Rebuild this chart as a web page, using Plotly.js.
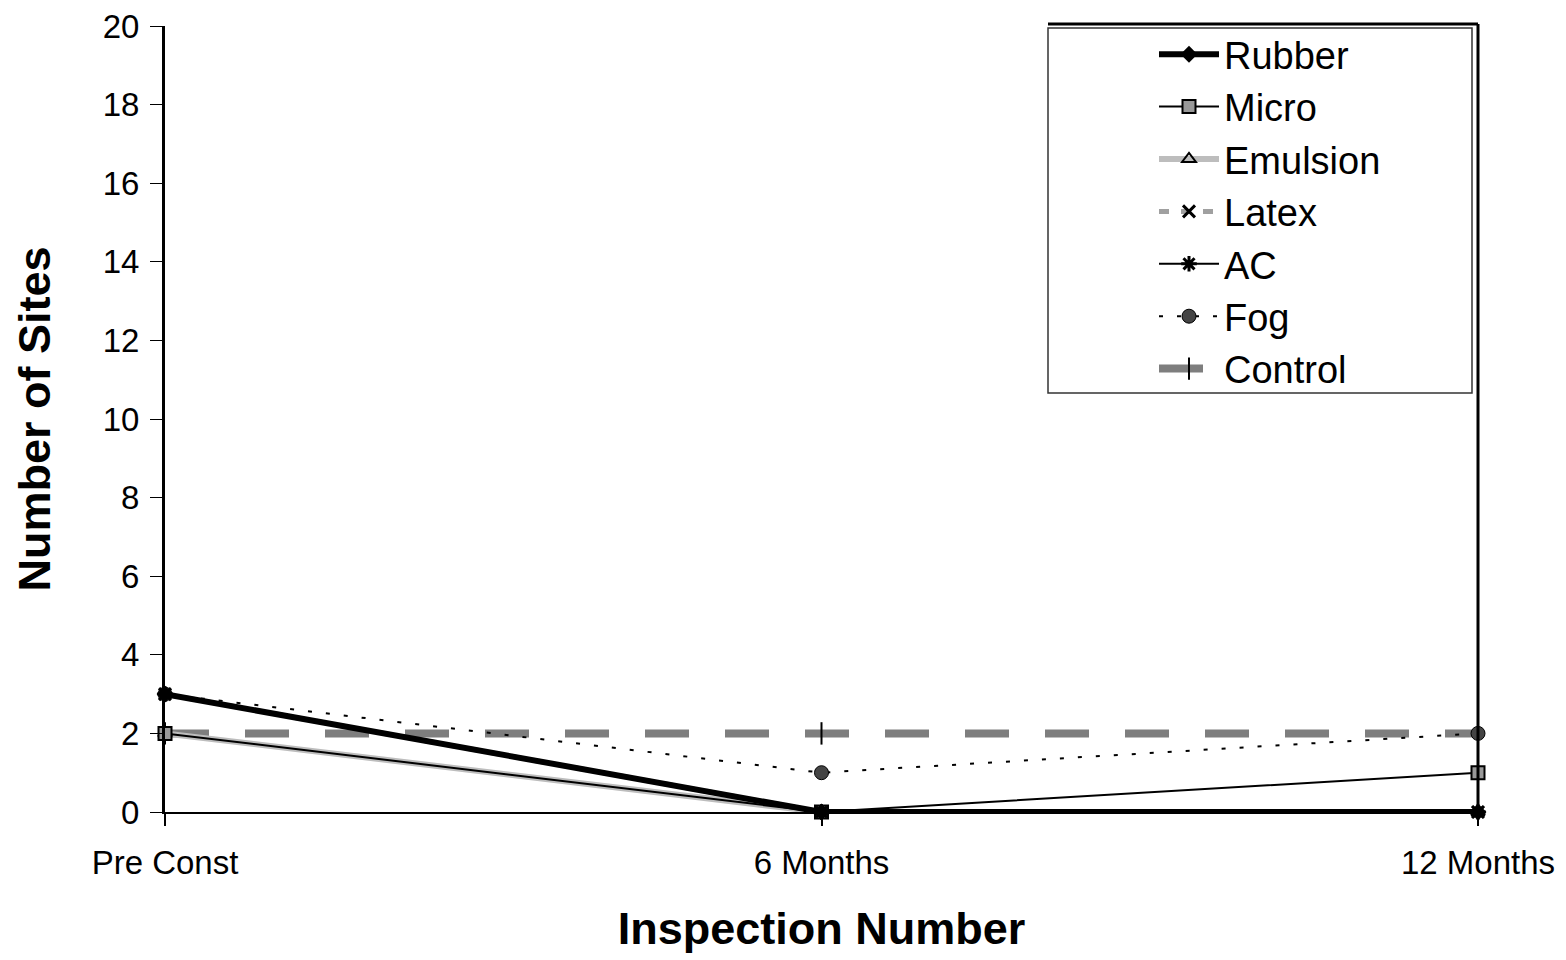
<!DOCTYPE html>
<html>
<head>
<meta charset="utf-8">
<script src="https://cdn.plot.ly/plotly-3.0.1.min.js"></script>
<style>html,body{margin:0;padding:0;background:#fff;}#chart{width:1566px;height:960px;}</style>
</head>
<body>
<div id="chart"></div>
<script>
const categories = ["Pre Const", "6 Months", "12 Months"];
const catIndex = [0, 1, 2];
const rubber = [3, 0, 0];
const micro = [2, 0, 1];
const emulsion = [2, 0, 0];
const latex = [3, 0, 0];
const ac = [3, 0, 0];
const fog = [3, 1, 2];
const control = [2, 2, 2];
const yTicks = [0, 2, 4, 6, 8, 10, 12, 14, 16, 18, 20];

const base = {x: catIndex, type: 'scatter', mode: 'lines+markers', cliponaxis: false};
const traces = [
  Object.assign({}, base, {name: 'Control', y: control, line: {color: '#7e7e7e', width: 8, dash: '44px,36px'}, marker: {symbol: 'line-ns', size: 16, line: {color: '#000', width: 2}}}),
  Object.assign({}, base, {name: 'Emulsion', y: emulsion, line: {color: '#bdbdbd', width: 6, dash: 'solid'}, marker: {symbol: 'triangle-up-open', size: 12, color: '#000', line: {width: 2}}}),
  Object.assign({}, base, {name: 'Latex', y: latex, line: {color: '#a0a0a0', width: 5, dash: '10px,12px'}, marker: {symbol: 'x-thin', size: 12, line: {color: '#000', width: 3}}}),
  Object.assign({}, base, {name: 'Fog', y: fog, line: {color: '#000', width: 2, dash: '4px,14px'}, marker: {symbol: 'circle', size: 14, color: '#444', line: {color: '#000', width: 1}}}),
  Object.assign({}, base, {name: 'Micro', y: micro, line: {color: '#000', width: 2}, marker: {symbol: 'square', size: 13, color: '#999', line: {color: '#000', width: 2}}}),
  Object.assign({}, base, {name: 'AC', y: ac, line: {color: '#000', width: 2}, marker: {symbol: 'asterisk', size: 13, line: {color: '#000', width: 3}}}),
  Object.assign({}, base, {name: 'Rubber', y: rubber, line: {color: '#000', width: 6}, marker: {symbol: 'diamond', size: 13, color: '#000'}})
];
const legendOrder = ['Rubber', 'Micro', 'Emulsion', 'Latex', 'AC', 'Fog', 'Control'];
traces.forEach(t => { t.legendrank = legendOrder.indexOf(t.name) + 1; });

// plot area: x 165..1478, y 26..812
const pw = 1566 - 165 - 88, ph = 960 - 26 - 148;
const px = v => (v - 165) / pw;
const py = v => (812 - v) / ph;

const layout = {
  width: 1566, height: 960,
  margin: {l: 165, r: 88, t: 26, b: 148},
  paper_bgcolor: '#fff', plot_bgcolor: '#fff',
  font: {family: 'Liberation Sans, Arial, sans-serif', color: '#000'},
  showlegend: true,
  legend: {
    x: px(1154), y: py(23), xanchor: 'left', yanchor: 'top',
    borderwidth: 0, bgcolor: 'rgba(0,0,0,0)',
    font: {size: 38, family: 'Liberation Sans, Arial, sans-serif'},
    tracegroupgap: 0, itemwidth: 60, traceorder: 'normal'
  },
  xaxis: {
    range: [0, 2], tickmode: 'array', tickvals: catIndex, ticktext: categories,
    showgrid: false, zeroline: false, showline: true, linecolor: '#000', linewidth: 2,
    ticks: 'outside', ticklen: 12, tickcolor: '#000', tickwidth: 2,
    tickfont: {size: 33}, ticklabelstandoff: 8,
    title: {text: '<b>Inspection Number</b>', font: {size: 45}, standoff: 33}
  },
  yaxis: {
    range: [0, 20], tickmode: 'array', tickvals: yTicks,
    showgrid: false, zeroline: false, showline: true, linecolor: '#000', linewidth: 3,
    ticks: 'outside', ticklen: 12, tickcolor: '#000', tickwidth: 1,
    tickfont: {size: 33}, ticklabelstandoff: 4,
    title: {text: '<b>Number of Sites</b>', font: {size: 45}, standoff: 38}
  },
  shapes: [
    {type: 'line', xref: 'paper', yref: 'paper', x0: 1, x1: 1, y0: 0, y1: py(24), line: {color: '#000', width: 3}},
    {type: 'line', xref: 'paper', yref: 'paper', x0: px(1048), x1: 1, y0: py(24), y1: py(24), line: {color: '#000', width: 3}},
    {type: 'rect', xref: 'paper', yref: 'paper', x0: px(1048), x1: px(1472), y0: py(393), y1: py(28), line: {color: '#333', width: 1.5}, fillcolor: 'rgba(0,0,0,0)'}
  ]
};
Plotly.newPlot('chart', traces, layout, {displayModeBar: false, staticPlot: true});
</script>
</body>
</html>
